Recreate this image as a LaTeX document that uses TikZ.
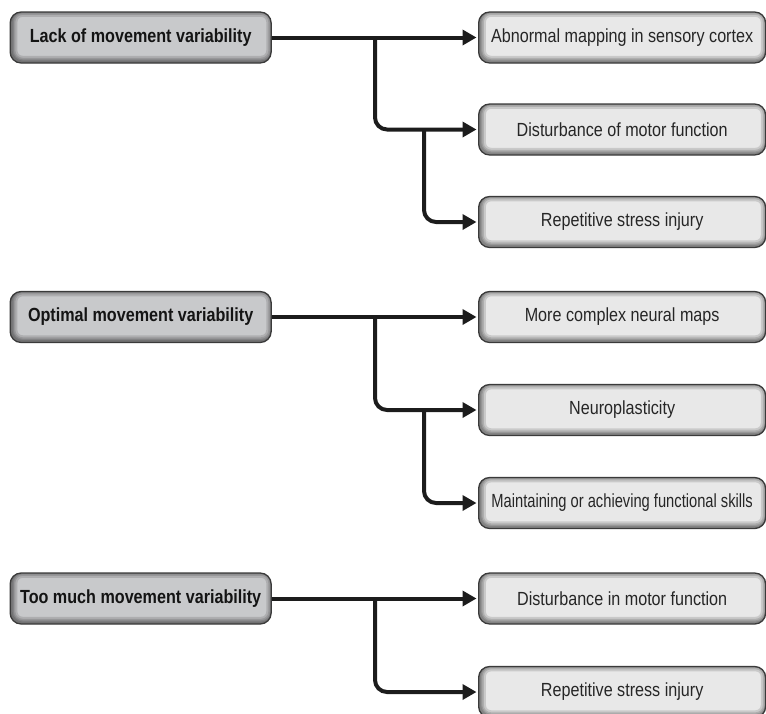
\documentclass[tikz,border=0pt]{standalone}
\usepackage{fontspec}
\newfontfamily\nar{Liberation Sans}[FakeStretch=0.85]
\usetikzlibrary{arrows.meta}
\definecolor{leftfill}{HTML}{C8C9CB}
\definecolor{rightfill}{HTML}{E8E8E8}
\definecolor{edgec}{HTML}{3A3A3A}
\definecolor{linec}{HTML}{1C1C1C}
\begin{document}
\begin{tikzpicture}[x=1pt,y=-1pt,
  bevel/.style={rounded corners=11pt, draw=edgec, line width=1.3pt,
    path picture={
      \foreach \w in {12,8,5,2.5}
        \draw[line width=\w pt, black, opacity=0.13, rounded corners=11pt]
          ([shift={(1.2pt,1.2pt)}]path picture bounding box.south west) rectangle
          ([shift={(1.2pt,1.2pt)}]path picture bounding box.north east);
    }},
  lbox/.style={bevel, fill=leftfill, minimum width=261pt, minimum height=51pt,
    anchor=west, inner sep=0pt, text=black!92,
    font=\nar\bfseries\fontsize{19}{21}\selectfont},
  rbox/.style={bevel, fill=rightfill, minimum width=287pt, minimum height=51pt,
    anchor=west, inner sep=0pt, text=black!85,
    font=\nar\fontsize{19}{21}\selectfont},
  conn/.style={line width=4pt, draw=linec, -{Triangle[length=14pt,width=15pt]},
    shorten >=1.5pt, rounded corners=12pt}
]
\useasboundingbox (0,0) rectangle (766,713);

% group 1
\node[lbox] (lack) at (9.5,37.5) {Lack of movement variability};
\node[rbox] (a1) at (478,37.5) {Abnormal mapping in sensory cortex};
\node[rbox] (a2) at (478,129.5) {Disturbance of motor function};
\node[rbox] (a3) at (478,222) {Repetitive stress injury};
\coordinate (ja1) at (375,37.5);
\coordinate (ja2) at (424,129.5);
\draw[conn] (lack.east) -- (a1.west);
\draw[conn] (ja1) |- (a2.west);
\draw[conn] (ja2) |- (a3.west);

% group 2
\node[lbox] (opt) at (9.5,317) {Optimal movement variability};
\node[rbox] (b1) at (478,317) {More complex neural maps};
\node[rbox] (b2) at (478,410) {Neuroplasticity};
\node[rbox] (b3) at (478,503) {\scalebox{0.91}[1]{Maintaining or achieving functional skills}};
\coordinate (jb1) at (375,317);
\coordinate (jb2) at (424,410);
\draw[conn] (opt.east) -- (b1.west);
\draw[conn] (jb1) |- (b2.west);
\draw[conn] (jb2) |- (b3.west);

% group 3
\node[lbox] (too) at (9.5,598.5) {Too much movement variability};
\node[rbox] (c1) at (478,598.5) {Disturbance in motor function};
\node[rbox] (c2) at (478,692) {Repetitive stress injury};
\coordinate (jc1) at (375,598.5);
\draw[conn] (too.east) -- (c1.west);
\draw[conn] (jc1) |- (c2.west);
\end{tikzpicture}
\end{document}
